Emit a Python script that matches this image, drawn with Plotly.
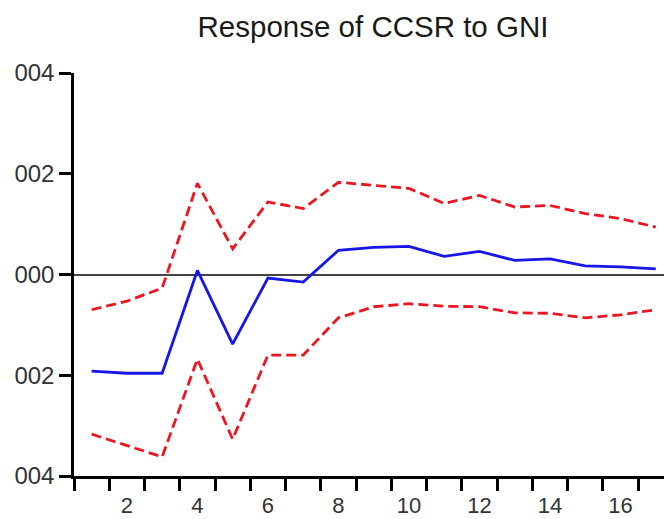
import plotly.graph_objects as go

periods = list(range(1, 18))
response = [-0.00192, -0.00196, -0.00196, 0.00008, -0.00138, -0.00007, -0.00015, 0.00048,
            0.00054, 0.00056, 0.00036, 0.00046, 0.00028, 0.00031, 0.00017, 0.00015, 0.00011]
upper = [-0.00070, -0.00053, -0.00027, 0.00181, 0.00051, 0.00144, 0.00131, 0.00183,
         0.00177, 0.00171, 0.00141, 0.00157, 0.00134, 0.00137, 0.00121, 0.00111, 0.00094]
lower = [-0.00317, -0.00340, -0.00362, -0.00168, -0.00327, -0.00160, -0.00160, -0.00086,
         -0.00064, -0.00058, -0.00063, -0.00064, -0.00076, -0.00077, -0.00086, -0.00080, -0.00070]

x_label_vals = [2, 4, 6, 8, 10, 12, 14, 16]
x_label_text = ["2", "4", "6", "8", "10", "12", "14", "16"]
x_tick_marks = [k + 0.5 for k in range(0, 18)]
y_tick_vals = [0.004, 0.002, 0.0, -0.002, -0.004]
y_tick_text = ["004", "002", "000", "002", "004"]

red = "rgb(236,22,34)"
blue = "rgb(22,22,232)"

fig = go.Figure()
fig.add_trace(go.Scatter(x=periods, y=upper, mode="lines",
                         line=dict(color=red, width=2.8, dash="10px,5px")))
fig.add_trace(go.Scatter(x=periods, y=lower, mode="lines",
                         line=dict(color=red, width=2.8, dash="10px,5px")))
fig.add_trace(go.Scatter(x=periods, y=response, mode="lines",
                         line=dict(color=blue, width=2.8)))

font_main = "Liberation Sans, Arial, sans-serif"

W, H = 664, 511  # page has an 8px body margin

fig.update_layout(
    width=W, height=H,
    margin=dict(l=66, r=0, t=65, b=43),
    paper_bgcolor="white", plot_bgcolor="white",
    showlegend=False,
    title=dict(text="Response of CCSR to GNI", x=365/W, xanchor="center",
               y=1 - 19/H, yanchor="middle", yref="container",
               font=dict(family=font_main, size=29.5, color="#1a1a1a")),
    xaxis=dict(range=[0.5, 17.46], showgrid=False, zeroline=False, automargin=False,
               showline=True, linecolor="black", linewidth=2.5,
               tickmode="array", tickvals=x_label_vals, ticktext=x_label_text,
               ticks="", ticklabelstandoff=8,
               tickfont=dict(family=font_main, size=22, color="#333"),
               minor=dict(tickmode="array", tickvals=x_tick_marks, ticks="outside",
                          ticklen=12, tickwidth=2.5, tickcolor="black", showgrid=False)),
    yaxis=dict(range=[-0.004, 0.004], showgrid=False, automargin=False,
               zeroline=True, zerolinecolor="#444", zerolinewidth=1.6,
               showline=True, linecolor="black", linewidth=2.5,
               tickmode="array", tickvals=y_tick_vals, ticktext=y_tick_text,
               ticks="outside", ticklen=12, tickwidth=2.5, tickcolor="black",
               ticklabelstandoff=0,
               tickfont=dict(family=font_main, size=24, color="#333")),
)

fig.write_html("out.html")
